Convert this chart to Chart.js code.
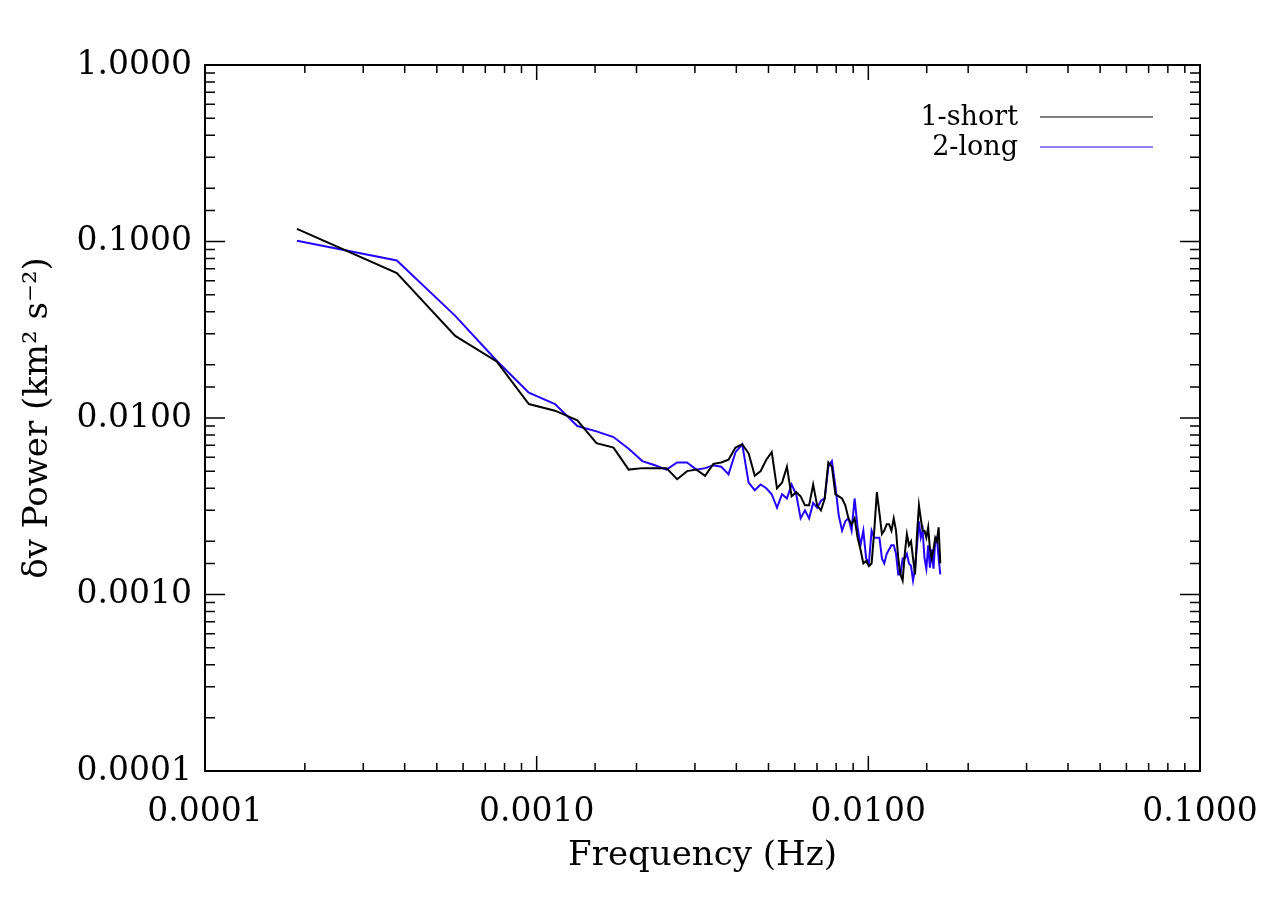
<!DOCTYPE html>
<html>
<head>
<meta charset="utf-8">
<script src="https://cdn.jsdelivr.net/npm/chart.js@4/dist/chart.umd.min.js"></script>
<style>
    body { margin: 0; background: #fff; }
    #wrap { width: 1262px; height: 902px; }
</style>
</head>
<body>
<div id="wrap"><canvas id="powerChart" width="1262" height="902"></canvas></div>
<script>
// frequency grid (Hz), same for both runs
const freqHz = [
    0.0001894, 0.0003788, 0.0005682, 0.0007576, 0.0009470, 0.001136, 0.001326, 0.001515, 0.001705, 0.001894,
    0.002083, 0.002273, 0.002462, 0.002652, 0.002841, 0.003030, 0.003220, 0.003409, 0.003599, 0.003788,
    0.003977, 0.004167, 0.004356, 0.004546, 0.004735, 0.004924, 0.005114, 0.005303, 0.005493, 0.005682,
    0.005871, 0.006061, 0.006250, 0.006440, 0.006629, 0.006818, 0.007008, 0.007197, 0.007387, 0.007576,
    0.007765, 0.007955, 0.008144, 0.008334, 0.008523, 0.008712, 0.008902, 0.009091, 0.009281, 0.009470,
    0.009659, 0.009849, 0.01004, 0.01023, 0.01042, 0.01061, 0.01080, 0.01099, 0.01117, 0.01136,
    0.01155, 0.01174, 0.01193, 0.01212, 0.01231, 0.01250, 0.01269, 0.01288, 0.01307, 0.01326,
    0.01345, 0.01364, 0.01383, 0.01402, 0.01421, 0.01439, 0.01458, 0.01477, 0.01496, 0.01515,
    0.01534, 0.01553, 0.01572, 0.01591, 0.01610, 0.01629, 0.01648
];

// 1-short
const shortPower = [
    0.118, 0.0663, 0.0292, 0.0209, 0.0120, 0.0110, 0.0097, 0.0072, 0.0068, 0.0051,
    0.0052, 0.0052, 0.0052, 0.0045, 0.0050, 0.0051, 0.0047, 0.0055, 0.0056, 0.0058,
    0.0068, 0.0071, 0.0063, 0.0047, 0.0050, 0.0058, 0.0064, 0.0040, 0.0043, 0.0053,
    0.0036, 0.0038, 0.0036, 0.0032, 0.0032, 0.0042, 0.0032, 0.0030, 0.0035, 0.0056,
    0.0053, 0.0037, 0.0036, 0.0035, 0.0032, 0.0027, 0.0025, 0.0027, 0.0021, 0.0018,
    0.0015, 0.00155, 0.00145, 0.0015, 0.0023, 0.0038, 0.0029, 0.0022, 0.0023, 0.0025,
    0.0025, 0.0023, 0.0027, 0.0023, 0.0016, 0.0013, 0.0012, 0.0017, 0.0022, 0.0019,
    0.0020, 0.0016, 0.0013, 0.0022, 0.0032, 0.0027, 0.0023, 0.0023, 0.0021, 0.0024,
    0.0018, 0.0016, 0.0018, 0.0021, 0.0020, 0.0024, 0.0015
];

// 2-long
const longPower = [
    0.101, 0.078, 0.0379, 0.0211, 0.0139, 0.0120, 0.0090, 0.0084, 0.0078, 0.0067,
    0.0057, 0.0054, 0.0051, 0.0056, 0.0056, 0.0051, 0.0052, 0.0054, 0.0053, 0.0048,
    0.0064, 0.0071, 0.0043, 0.0039, 0.0042, 0.0040, 0.0037, 0.0031, 0.0037, 0.0035,
    0.0042, 0.0037, 0.0027, 0.0030, 0.0027, 0.0033, 0.0031, 0.0034, 0.0035, 0.0053,
    0.0057, 0.0041, 0.0028, 0.0023, 0.0026, 0.0027, 0.0023, 0.0035, 0.0024, 0.0019,
    0.0023, 0.0016, 0.0015, 0.0023, 0.0021, 0.0021, 0.0021, 0.0016, 0.0015, 0.0017,
    0.0018, 0.0019, 0.0019, 0.0017, 0.0013, 0.0013, 0.0016, 0.0016, 0.0017, 0.0015,
    0.00145, 0.0012, 0.0014, 0.0019, 0.0026, 0.0021, 0.0023, 0.0016, 0.0014, 0.0019,
    0.00142, 0.0018, 0.0014, 0.0020, 0.0021, 0.0016, 0.0013
];

const seriesLabels = ['1-short', '2-long'];
const seriesColors = ['#000000', '#2200ff'];

const fontFamily = '"DejaVu Serif", "Liberation Serif", serif';

function isDecade(v) {
    const l = Math.log10(v);
    return Math.abs(l - Math.round(l)) < 1e-6;
}

function toPoints(values) {
    return values.map((v, i) => ({ x: freqHz[i], y: v }));
}

// IDL-style inward ticks on all four sides, plus text-then-line legend
const boxTicks = {
    id: 'boxTicks',
    afterDraw(chart) {
        const ctx = chart.ctx;
        const area = chart.chartArea;
        const xs = chart.scales.x;
        const ys = chart.scales.y;

        ctx.save();
        ctx.strokeStyle = '#000';
        ctx.lineWidth = 2;
        ctx.strokeRect(area.left, area.top, area.right - area.left, area.bottom - area.top);

        ctx.lineWidth = 1.5;
        ctx.beginPath();
        xs.ticks.forEach(t => {
            const px = xs.getPixelForValue(t.value);
            const len = isDecade(t.value) ? 15 : 8;
            ctx.moveTo(px, area.bottom);
            ctx.lineTo(px, area.bottom - len);
            ctx.moveTo(px, area.top);
            ctx.lineTo(px, area.top + len);
        });
        ys.ticks.forEach(t => {
            const py = ys.getPixelForValue(t.value);
            const len = isDecade(t.value) ? 20 : 10;
            ctx.moveTo(area.left, py);
            ctx.lineTo(area.left + len, py);
            ctx.moveTo(area.right, py);
            ctx.lineTo(area.right - len, py);
        });
        ctx.stroke();

        // legend
        ctx.font = '27px ' + fontFamily;
        ctx.textAlign = 'right';
        ctx.textBaseline = 'middle';
        chart.data.datasets.forEach((ds, i) => {
            const y = 117 + i * 30;
            ctx.fillStyle = '#000';
            ctx.fillText(ds.label, 1018, y + 1);
            ctx.strokeStyle = ds.borderColor;
            ctx.lineWidth = 1;
            ctx.beginPath();
            ctx.moveTo(1040, y);
            ctx.lineTo(1153, y);
            ctx.stroke();
        });
        ctx.restore();
    }
};

new Chart(document.getElementById('powerChart').getContext('2d'), {
    type: 'line',
    data: {
        datasets: [
            {
                label: seriesLabels[0],
                data: toPoints(shortPower),
                borderColor: seriesColors[0],
                borderWidth: 2,
                pointRadius: 0,
                tension: 0
            },
            {
                label: seriesLabels[1],
                data: toPoints(longPower),
                borderColor: seriesColors[1],
                borderWidth: 2,
                pointRadius: 0,
                tension: 0
            }
        ]
    },
    options: {
        responsive: false,
        animation: false,
        layout: { padding: { top: 65, right: 62, left: 0, bottom: 0 } },
        plugins: {
            legend: { display: false },
            tooltip: { enabled: false }
        },
        scales: {
            x: {
                type: 'logarithmic',
                min: 0.0001,
                max: 0.1,
                grid: { display: false, drawTicks: false },
                border: { display: false },
                afterFit: scale => {
                    scale.height = 131;
                    scale.paddingLeft = 0;
                    scale.paddingRight = 0;
                },
                ticks: {
                    autoSkip: false,
                    maxRotation: 0,
                    padding: 22,
                    color: '#000',
                    font: { family: fontFamily, size: 33 },
                    callback: v => isDecade(v) ? v.toFixed(4) : ''
                },
                title: {
                    display: true,
                    text: 'Frequency (Hz)',
                    color: '#000',
                    font: { family: fontFamily, size: 34 },
                    padding: { top: 0, bottom: 25 }
                }
            },
            y: {
                type: 'logarithmic',
                min: 0.0001,
                max: 1,
                grid: { display: false, drawTicks: false },
                border: { display: false },
                afterFit: scale => {
                    scale.width = 205;
                    scale.paddingTop = 0;
                    scale.paddingBottom = 0;
                },
                ticks: {
                    autoSkip: false,
                    padding: 13,
                    color: '#000',
                    font: { family: fontFamily, size: 33 },
                    callback: v => isDecade(v) ? v.toFixed(4) : ''
                },
                title: {
                    display: true,
                    text: 'δv Power (km² s⁻²)',
                    color: '#000',
                    font: { family: fontFamily, size: 34 },
                    padding: { top: 18, bottom: 0 }
                }
            }
        }
    },
    plugins: [boxTicks]
});
</script>
</body>
</html>
